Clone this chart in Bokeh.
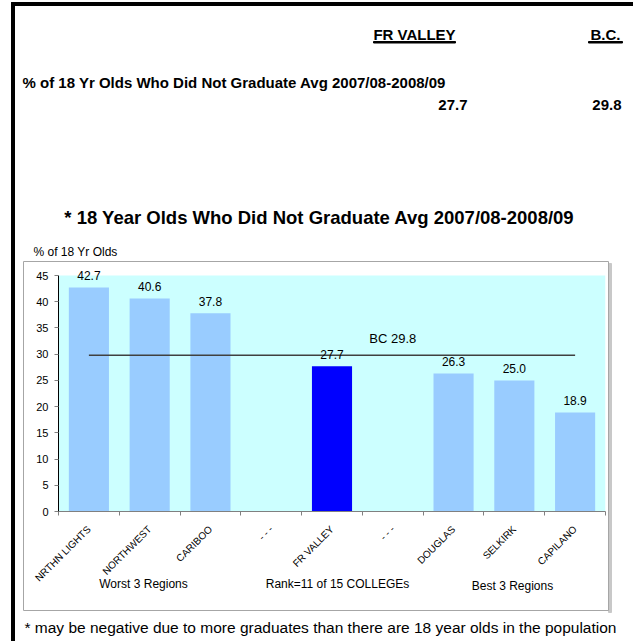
import math
from bokeh.plotting import figure
from bokeh.models import LabelSet, Label, ColumnDataSource, FixedTicker, Range1d
from bokeh.embed import file_html
from bokeh.resources import INLINE
from bokeh.core.properties import value

# ---------------- data ----------------
categories = ["NRTHN LIGHTS", "NORTHWEST", "CARIBOO", "- - -", "FR VALLEY",
              "- - -", "DOUGLAS", "SELKIRK", "CAPILANO"]
pct_not_graduated = [42.7, 40.6, 37.8, None, 27.7, None, 26.3, 25.0, 18.9]
highlight = "FR VALLEY"
bc_avg = 29.8
y_ticks = [0, 5, 10, 15, 20, 25, 30, 35, 40, 45]
group_labels = ["Worst 3 Regions", "Rank=11 of 15 COLLEGEs", "Best 3 Regions"]
header_cols = ["FR VALLEY", "B.C."]
header_vals = [27.7, 29.8]
header_row = "% of 18 Yr Olds Who Did Not Graduate Avg 2007/08-2008/09"
chart_title = "* 18 Year Olds Who Did Not Graduate Avg 2007/08-2008/09"
y_label = "% of 18 Yr Olds"
footnote = "* may be negative due to more graduates than there are 18 year olds in the population"

FONT = "Liberation Sans"
BAR = "#99CCFF"
HI = "#0000FF"
CYAN = "#CCFFFF"

W, H = 633, 641
FL, FT, FR, FB = 58, 275, 605, 511   # plot-area edges on the page (px)
FT_EXT = 262                          # frame top (room for the top value label)
Y_MAX = y_ticks[-1]
Y_END = Y_MAX * (FB - FT_EXT) / (FB - FT)

# ---------------- page background with texts ----------------
bg = figure(width=W, height=H, x_range=Range1d(0, W), y_range=Range1d(H, 0),
            x_axis_type=None, y_axis_type=None, min_border=0,
            toolbar_location=None, output_backend="svg", outline_line_color=None,
            background_fill_color="white", border_fill_color="white")
bg.grid.visible = False

def txt(xs_, ys_, ts, size, bold=False, align="left"):
    bg.text(x=xs_, y=ys_, text=ts, text_font=value(FONT), text_font_size=size,
            text_font_style="bold" if bold else "normal", text_align=align,
            text_baseline="middle", text_color="black")

# page borders
bg.quad(left=[11, 11], right=[W, 14], top=[2, 2], bottom=[5, H], color="black")
# header table
txt([414], [34], [header_cols[0]], "15px", True, "center")
txt([605], [34], [header_cols[1]], "15px", True, "center")
bg.quad(left=[373, 588], right=[455, 622], top=[41, 41], bottom=[42.5, 42.5], color="black")
txt([22], [82], [header_row], "15px", True)
txt([467, 621], [104, 104], [f"{v:.1f}" for v in header_vals], "15px", True, "right")
# chart title
txt([319], [217], [chart_title], "18.5px", True, "center")
# chart box
bg.quad(left=[608], right=[611], top=[263], bottom=[612], color="#C8C8C8")
bg.quad(left=[23], right=[608], top=[261], bottom=[610], fill_alpha=0,
        line_color="#A6A6A6", line_width=1)
txt([33], [251], [y_label], "12px")
# group labels
txt([143, 337, 512], [583, 583, 585], group_labels, "12px", False, "center")
# footnote
txt([24], [627], [footnote], "15.5px")

# ---------------- chart (overlaid on the page) ----------------
p = figure(width=W, height=H, x_range=(0, len(categories)), y_range=(0, Y_END),
           output_backend="svg", toolbar_location=None,
           min_border_left=FL, min_border_right=W - FR,
           min_border_top=FT_EXT, min_border_bottom=H - FB,
           background_fill_alpha=0, border_fill_alpha=0,
           outline_line_color=None, styles={"margin-top": f"-{H}px"})
p.xgrid.visible = False
p.ygrid.visible = False

# plot area background (0..45)
p.quad(left=[0], right=[len(categories)], bottom=[y_ticks[0]], top=[Y_MAX],
       fill_color=CYAN, line_color=None)

xs = [i + 0.5 for i in range(len(categories))]
bx, btop, bcol, blab = [], [], [], []
for x, c, v in zip(xs, categories, pct_not_graduated):
    if v is None:
        continue
    bx.append(x)
    btop.append(v)
    bcol.append(HI if c == highlight else BAR)
    blab.append(f"{v:.1f}")
src = ColumnDataSource(dict(x=bx, top=btop, color=bcol, label=blab))
p.vbar(x="x", top="top", width=0.66, fill_color="color", line_color=None, source=src)

p.line(x=[xs[0], xs[-1]], y=[bc_avg, bc_avg], line_color="#404040", line_width=1.5)

p.add_layout(LabelSet(x="x", y="top", text="label", source=src, text_align="center",
                      text_baseline="middle", y_offset=12, text_font_size="12px",
                      text_font=value(FONT), text_color="black"))
p.add_layout(Label(x=xs[5], y=bc_avg, text=f"BC {bc_avg}", text_align="center",
                   text_baseline="middle", y_offset=17, text_font_size="13px",
                   text_font=FONT, text_color="black"))

ya = p.yaxis[0]
ya.ticker = FixedTicker(ticks=y_ticks)
ya.bounds = (y_ticks[0], Y_MAX)
ya.axis_line_color = "black"
ya.major_tick_line_color = "#808080"
ya.major_tick_out = 4
ya.major_tick_in = 0
ya.minor_tick_line_color = None
ya.major_label_text_font_size = "11px"
ya.major_label_text_font = FONT
ya.major_label_text_color = "black"
ya.major_label_standoff = 6

xa = p.xaxis[0]
xa.ticker = FixedTicker(ticks=xs, minor_ticks=list(range(len(categories) + 1)))
xa.major_label_overrides = {x: c for x, c in zip(xs, categories)}
xa.major_tick_line_color = None
xa.minor_tick_line_color = "#808080"
xa.minor_tick_out = 4
xa.minor_tick_in = 0
xa.axis_line_color = "#808080"
xa.major_label_orientation = math.pi / 4
xa.major_label_text_font_size = "10px"
xa.major_label_text_font = FONT
xa.major_label_text_color = "black"
xa.major_label_standoff = 10

open("out.html", "w").write(file_html([bg, p], INLINE))
